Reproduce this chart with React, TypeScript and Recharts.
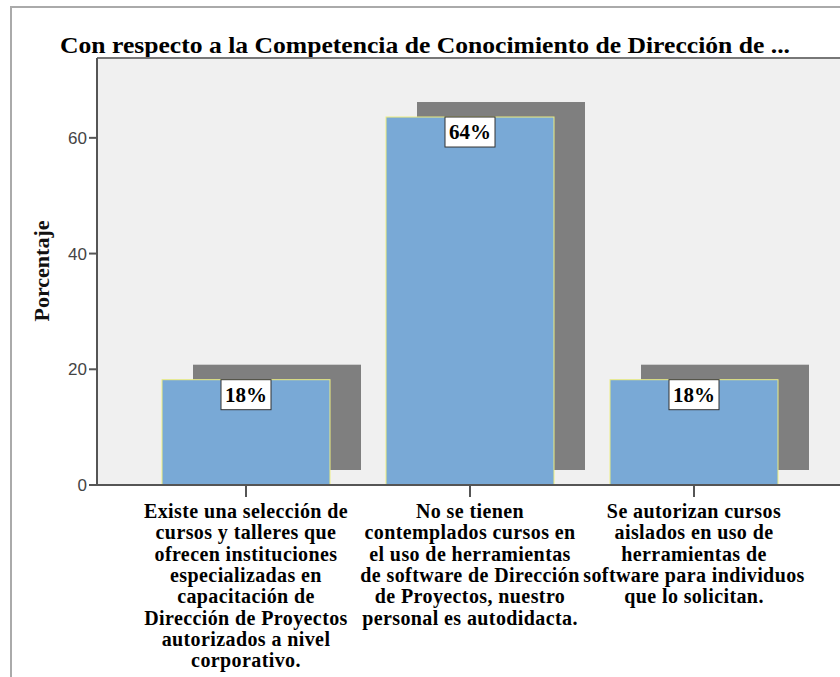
import { BarChart, Bar, XAxis, YAxis, CartesianGrid, LabelList, ReferenceLine } from 'recharts'

const categoryLines = [
  [
    'Existe una selección de',
    'cursos y talleres que',
    'ofrecen instituciones',
    'especializadas en',
    'capacitación de',
    'Dirección de Proyectos',
    'autorizados a nivel',
    'corporativo.',
  ],
  [
    'No se tienen',
    'contemplados cursos en',
    'el uso de herramientas',
    'de software de Dirección',
    'de Proyectos, nuestro',
    'personal es autodidacta.',
  ],
  [
    'Se autorizan cursos',
    'aislados en uso de',
    'herramientas de',
    'software para individuos',
    'que lo solicitan.',
  ],
]
const percentages = [18.2, 63.6, 18.2]
const percentLabels = ['18%', '64%', '18%']
const yTicks = [0, 20, 40, 60]
const yMax = 73.8

const TITLE = 'Con respecto a la Competencia de Conocimiento de Dirección de ...'
const serif = { fontFamily: 'Liberation Serif, DejaVu Serif, serif' }

const data = categoryLines.map((lines, i) => ({
  name: lines.join('\n'),
  value: percentages[i],
  label: percentLabels[i],
}))

function ShadowBar(props: any) {
  const { x, y, width, height } = props
  return (
    <g>
      <rect x={x + 31} y={y - 15} width={width} height={height} fill="#7f7f7f" />
      <rect x={x} y={y} width={width} height={height} fill="#79a9d6" stroke="#eded80" strokeWidth={1} />
    </g>
  )
}

function ValueBox(props: any) {
  const { x, y, width, value } = props
  const cx = x + width / 2
  return (
    <g>
      <rect x={cx - 25} y={y} width={50} height={30} fill="#fff" stroke="#333" strokeWidth={1} />
      <text x={cx} y={y + 22} textAnchor="middle" style={serif} fontWeight="bold" fontSize={21} fill="#000">
        {value}
      </text>
    </g>
  )
}

function CategoryTick(props: any) {
  const { x, y, payload } = props
  const lines = String(payload.value).split('\n')
  return (
    <text x={x} y={y} textAnchor="middle" style={serif} fontWeight="bold" fontSize={20} letterSpacing={0.4} fill="#000">
      {lines.map((l, i) => (
        <tspan key={i} x={x} dy={i === 0 ? 19 : 21.3}>
          {l}
        </tspan>
      ))}
    </text>
  )
}

export default function App() {
  return (
    <div style={{ position: 'absolute', left: 0, top: 0, width: 840, height: 677, background: '#fff' }}>
      <div
        style={{
          position: 'absolute',
          left: 10,
          top: 6,
          width: 840,
          height: 680,
          borderLeft: '2px solid #aaa',
          borderTop: '2px solid #aaa',
        }}
      />
      <BarChart
        width={840}
        height={677}
        data={data}
        margin={{ top: 58, right: 0, left: 0, bottom: 0 }}
        barCategoryGap={28}
        style={{ position: 'absolute', left: 0, top: 0 }}
      >
        <text
          x={425}
          y={53}
          textAnchor="middle"
          style={serif}
          fontWeight="bold"
          fontSize={24}
          textLength={730}
          lengthAdjust="spacingAndGlyphs"
          fill="#000"
        >
          {TITLE}
        </text>
        <text
          x={49}
          y={271}
          transform="rotate(-90 49 271)"
          textAnchor="middle"
          style={serif}
          fontWeight="bold"
          fontSize={22}
          fill="#111"
        >
          Porcentaje
        </text>
        <CartesianGrid horizontal={false} vertical={false} fill="#f0f0f0" />
        <ReferenceLine y={yMax} stroke="#777" strokeWidth={2} />
        <XAxis
          dataKey="name"
          interval={0}
          height={192}
          padding={{ left: 37, right: 34 }}
          tickSize={12}
          axisLine={{ stroke: '#555', strokeWidth: 2 }}
          tickLine={{ stroke: '#555', strokeWidth: 2 }}
          tick={<CategoryTick />}
        />
        <YAxis
          width={97}
          domain={[0, yMax]}
          ticks={yTicks}
          tickSize={8}
          axisLine={{ stroke: '#555', strokeWidth: 2 }}
          tickLine={{ stroke: '#555', strokeWidth: 2 }}
          tick={{ fill: '#444', fontSize: 17, fontFamily: 'Liberation Sans, Arial, sans-serif' }}
        />
        <Bar dataKey="value" shape={<ShadowBar />} isAnimationActive={false}>
          <LabelList dataKey="label" content={<ValueBox />} />
        </Bar>
      </BarChart>
    </div>
  )
}
